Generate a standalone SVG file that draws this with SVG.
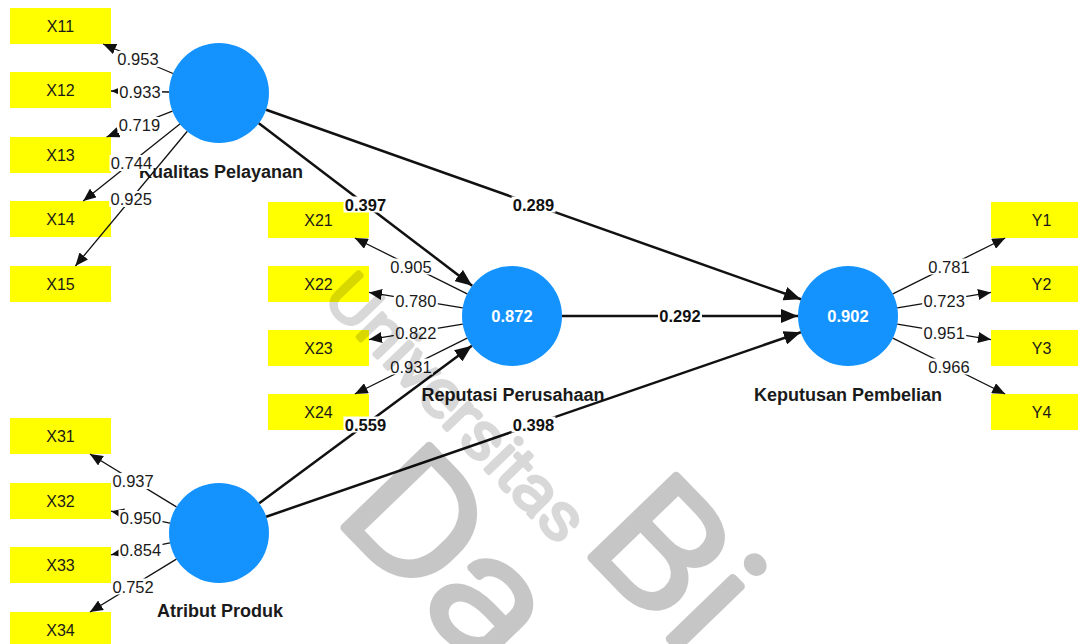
<svg xmlns="http://www.w3.org/2000/svg" width="1078" height="644" viewBox="0 0 1078 644">
<style>
.box{fill:#ffff00}
.bt{font-family:"Liberation Sans",Arial,sans-serif;font-size:16px;fill:#1a1a1a;text-anchor:middle}
.lv{fill:#1493ff}
.lvv{font-family:"Liberation Sans",Arial,sans-serif;font-size:16.5px;font-weight:bold;fill:#ffffff;text-anchor:middle}
.lvn{font-family:"Liberation Sans",Arial,sans-serif;font-size:18px;font-weight:bold;fill:#1a1a1a;text-anchor:middle}
.ind{stroke:#111;stroke-width:1.3;fill:none;marker-end:url(#aS)}
.str{stroke:#111;stroke-width:2.5;fill:none;marker-end:url(#aL)}
.lb{fill:#ffffff}
.lt{font-family:"Liberation Sans",Arial,sans-serif;font-size:16.5px;fill:#1a1a1a;text-anchor:middle}
.ls{font-family:"Liberation Sans",Arial,sans-serif;font-size:16.5px;font-weight:bold;fill:#111;text-anchor:middle}
.wm{font-family:Roboto,"DejaVu Sans",sans-serif;font-weight:300;fill:#000;stroke:#000;stroke-linejoin:round;stroke-linecap:round}
</style>
<defs>
<marker id="aL" markerUnits="userSpaceOnUse" markerWidth="18" markerHeight="14" refX="17" refY="7" orient="auto"><path d="M0,0 L17,7 L0,14 z" fill="#111"/></marker>
<marker id="aS" markerUnits="userSpaceOnUse" markerWidth="13" markerHeight="11" refX="13" refY="5.5" orient="auto"><path d="M0,0 L13,5.5 L0,11 z" fill="#111"/></marker>
</defs>
<rect width="1078" height="644" fill="#ffffff"/>

<g id="X11"><rect class="box" x="10" y="8" width="101" height="36"/><text class="bt" x="60.5" y="31.7">X11</text></g>
<g id="X12"><rect class="box" x="10" y="72" width="101" height="36"/><text class="bt" x="60.5" y="95.7">X12</text></g>
<g id="X13"><rect class="box" x="10" y="137" width="101" height="36"/><text class="bt" x="60.5" y="160.7">X13</text></g>
<g id="X14"><rect class="box" x="10" y="201" width="101" height="36"/><text class="bt" x="60.5" y="224.7">X14</text></g>
<g id="X15"><rect class="box" x="10" y="266" width="101" height="36"/><text class="bt" x="60.5" y="289.7">X15</text></g>

<g id="X21"><rect class="box" x="268" y="202" width="101" height="36"/><text class="bt" x="318.5" y="225.7">X21</text></g>
<g id="X22"><rect class="box" x="268" y="266" width="101" height="36"/><text class="bt" x="318.5" y="289.7">X22</text></g>
<g id="X23"><rect class="box" x="268" y="330" width="101" height="36"/><text class="bt" x="318.5" y="353.7">X23</text></g>
<g id="X24"><rect class="box" x="268" y="394" width="101" height="36"/><text class="bt" x="318.5" y="417.7">X24</text></g>

<g id="X31"><rect class="box" x="10" y="418" width="101" height="36"/><text class="bt" x="60.5" y="441.7">X31</text></g>
<g id="X32"><rect class="box" x="10" y="483" width="101" height="36"/><text class="bt" x="60.5" y="506.7">X32</text></g>
<g id="X33"><rect class="box" x="10" y="547" width="101" height="36"/><text class="bt" x="60.5" y="570.7">X33</text></g>
<g id="X34"><rect class="box" x="10" y="612" width="101" height="36"/><text class="bt" x="60.5" y="635.7">X34</text></g>

<g id="Y1"><rect class="box" x="991" y="202" width="101" height="36"/><text class="bt" x="1041.5" y="225.7">Y1</text></g>
<g id="Y2"><rect class="box" x="991" y="266" width="101" height="36"/><text class="bt" x="1041.5" y="289.7">Y2</text></g>
<g id="Y3"><rect class="box" x="991" y="330" width="101" height="36"/><text class="bt" x="1041.5" y="353.7">Y3</text></g>
<g id="Y4"><rect class="box" x="991" y="394" width="101" height="36"/><text class="bt" x="1041.5" y="417.7">Y4</text></g>

<g id="KualitasPelayanan"><circle class="lv" cx="219" cy="93" r="50"/><text class="lvn" x="221" y="177.5">Kualitas Pelayanan</text></g>
<g id="ReputasiPerusahaan"><circle class="lv" cx="512" cy="316" r="50"/><text class="lvv" x="512" y="322">0.872</text><text class="lvn" x="513" y="400.5">Reputasi Perusahaan</text></g>
<g id="AtributProduk"><circle class="lv" cx="219" cy="533" r="50"/><text class="lvn" x="220" y="617">Atribut Produk</text></g>
<g id="KeputusanPembelian"><circle class="lv" cx="848" cy="316" r="50"/><text class="lvv" x="848" y="322">0.902</text><text class="lvn" x="848" y="400.5">Keputusan Pembelian</text></g>

<g id="connectors">
<line class="ind" x1="173" y1="73.5" x2="103.1" y2="44"/>
<line class="ind" x1="169" y1="92" x2="111" y2="91"/>
<line class="ind" x1="172.4" y1="111.2" x2="106.5" y2="137"/>
<line class="ind" x1="179.9" y1="124.1" x2="83.2" y2="201"/>
<line class="ind" x1="187.1" y1="131.5" x2="75.4" y2="266"/>

<line class="ind" x1="467.2" y1="293.8" x2="354.8" y2="238"/>
<line class="ind" x1="462.7" y1="307.8" x2="369" y2="292.4"/>
<line class="ind" x1="462.7" y1="324.2" x2="369" y2="339.6"/>
<line class="ind" x1="467.2" y1="338.2" x2="354.8" y2="394"/>

<line class="ind" x1="176.4" y1="506.9" x2="89.9" y2="454"/>
<line class="ind" x1="170" y1="523.1" x2="111" y2="511.2"/>
<line class="ind" x1="170" y1="542.9" x2="111" y2="554.8"/>
<line class="ind" x1="176.4" y1="559.1" x2="89.9" y2="612"/>

<line class="ind" x1="892.8" y1="293.8" x2="1005.2" y2="238"/>
<line class="ind" x1="897.3" y1="307.8" x2="991" y2="292.4"/>
<line class="ind" x1="897.3" y1="324.2" x2="991" y2="339.6"/>
<line class="ind" x1="892.8" y1="338.2" x2="1005.2" y2="394"/>

<line class="str" x1="258.8" y1="123.3" x2="472.2" y2="285.7"/>
<line class="str" x1="266.1" y1="109.7" x2="800.9" y2="299.3"/>
<line class="str" x1="562" y1="316" x2="798" y2="316"/>
<line class="str" x1="259.2" y1="503.2" x2="471.8" y2="345.8"/>
<line class="str" x1="266.2" y1="516.7" x2="800.8" y2="332.3"/>

<rect class="lb" x="116" y="51" width="44" height="16"/><text class="lt" x="138" y="65">0.953</text>
<rect class="lb" x="118" y="84" width="44" height="16"/><text class="lt" x="140" y="98">0.933</text>
<rect class="lb" x="117.5" y="117" width="44" height="16"/><text class="lt" x="139.5" y="131">0.719</text>
<rect class="lb" x="109.5" y="155" width="44" height="16"/><text class="lt" x="131.5" y="169">0.744</text>
<rect class="lb" x="109.2" y="191" width="44" height="16"/><text class="lt" x="131.2" y="205">0.925</text>

<rect class="lb" x="389" y="258.5" width="44" height="16"/><text class="lt" x="411" y="272.5">0.905</text>
<rect class="lb" x="393.8" y="292.5" width="44" height="16"/><text class="lt" x="415.8" y="306.5">0.780</text>
<rect class="lb" x="393.8" y="324.5" width="44" height="16"/><text class="lt" x="415.8" y="338.5">0.822</text>
<rect class="lb" x="389" y="358.5" width="44" height="16"/><text class="lt" x="411" y="372.5">0.931</text>

<rect class="lb" x="111.1" y="473" width="44" height="16"/><text class="lt" x="133.1" y="487">0.937</text>
<rect class="lb" x="118.5" y="510" width="44" height="16"/><text class="lt" x="140.5" y="524">0.950</text>
<rect class="lb" x="118.5" y="541.5" width="44" height="16"/><text class="lt" x="140.5" y="555.5">0.854</text>
<rect class="lb" x="111.1" y="578.5" width="44" height="16"/><text class="lt" x="133.1" y="592.5">0.752</text>

<rect class="lb" x="927" y="258.5" width="44" height="16"/><text class="lt" x="949" y="272.5">0.781</text>
<rect class="lb" x="922.2" y="292.5" width="44" height="16"/><text class="lt" x="944.2" y="306.5">0.723</text>
<rect class="lb" x="922.2" y="324.5" width="44" height="16"/><text class="lt" x="944.2" y="338.5">0.951</text>
<rect class="lb" x="927" y="358.5" width="44" height="16"/><text class="lt" x="949" y="372.5">0.966</text>

<rect class="lb" x="343.5" y="196.5" width="44" height="16"/><text class="ls" x="365.5" y="210.5">0.397</text>
<rect class="lb" x="511.5" y="196.5" width="44" height="16"/><text class="ls" x="533.5" y="210.5">0.289</text>
<rect class="lb" x="658" y="308" width="44" height="16"/><text class="ls" x="680" y="322">0.292</text>
<rect class="lb" x="343.5" y="416.5" width="44" height="16"/><text class="ls" x="365.5" y="430.5">0.559</text>
<rect class="lb" x="511.5" y="416.5" width="44" height="16"/><text class="ls" x="533.5" y="430.5">0.398</text>
</g>

<g id="watermark">
<text class="wm" font-size="64" stroke-width="4.5" opacity="0.15" transform="translate(322,300) rotate(46) scale(1.1,1)">Universitas</text>
<text class="wm" font-size="166" stroke-width="8" opacity="0.22" transform="translate(580,546) rotate(46) scale(1.12,1)">Bi</text>
<text class="wm" font-size="166" stroke-width="8" opacity="0.22" transform="translate(333,516) rotate(46) scale(1.12,1)">Da</text>
</g>
</svg>
